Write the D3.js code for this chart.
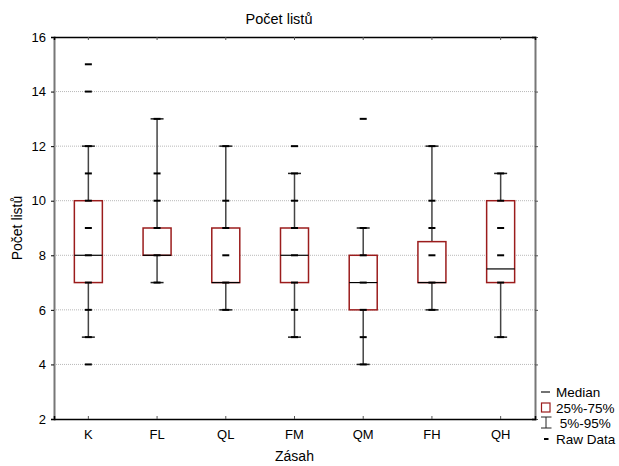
<!DOCTYPE html>
<html>
<head>
<meta charset="utf-8">
<script src="https://cdn.jsdelivr.net/npm/d3@7"></script>
<style>
body { margin: 0; background: #fff; }
text { font-family: "Liberation Sans", Arial, sans-serif; }
</style>
</head>
<body>
<div id="chart"></div>
<script>
var categories = ["K", "FL", "QL", "FM", "QM", "FH", "QH"];
var q1 =      [7, 8, 7, 7, 6, 7, 7];
var medians = [8, 8, 7, 8, 7, 7, 7.5];
var q3 =      [10, 9, 9, 9, 8, 8.5, 10];
var p5 =      [5, 7, 6, 5, 4, 6, 5];
var p95 =     [12, 13, 12, 11, 9, 12, 11];
var rawData = [
  [4, 5, 6, 7, 8, 9, 10, 11, 12, 14, 15],
  [7, 8, 9, 10, 11, 13],
  [6, 7, 8, 9, 10, 12],
  [5, 6, 7, 8, 9, 10, 11, 12],
  [4, 5, 6, 7, 8, 9, 13],
  [6, 7, 8, 9, 10, 12],
  [5, 7, 8, 9, 10, 11]
];
var yTicks = [2, 4, 6, 8, 10, 12, 14, 16];
var legendLabels = ["Median", "25%-75%", " 5%-95%", "Raw Data"];

var W = 619, H = 466;
var plotLeft = 54, plotRight = 535, plotTop = 37, plotBottom = 419;

var svg = d3.select("#chart").append("svg")
  .attr("width", W).attr("height", H);

var x = d3.scaleBand().domain(categories).range([plotLeft, plotRight]).padding(0);
var y = d3.scaleLinear().domain([2, 16]).range([plotBottom, plotTop]);

// grid
svg.append("g").selectAll("line")
  .data(yTicks.filter(function(t) { return t > 2 && t < 16; }))
  .enter().append("line")
  .attr("x1", plotLeft).attr("x2", plotRight)
  .attr("y1", function(d) { return y(d); })
  .attr("y2", function(d) { return y(d); })
  .attr("stroke", "#b8b8b8")
  .attr("stroke-width", 1)
  .attr("stroke-dasharray", "1,1");

// axes
var yAxis = svg.append("g").attr("transform", "translate(" + plotLeft + ",0)")
  .call(d3.axisLeft(y).tickValues(yTicks).tickSize(3).tickPadding(5));
yAxis.select(".domain").attr("stroke", "#777").attr("stroke-width", 2);
yAxis.selectAll("text").attr("font-size", 13).attr("fill", "#000");

var yAxisR = svg.append("g").attr("transform", "translate(" + plotRight + ",0)")
  .call(d3.axisLeft(y).tickValues(yTicks).tickSize(3).tickFormat(""));
yAxisR.select(".domain").attr("stroke", "#777").attr("stroke-width", 2);
yAxisR.selectAll(".tick line").attr("transform", "translate(3,0)").attr("stroke", "#555");

var xAxis = svg.append("g").attr("transform", "translate(0," + plotBottom + ")")
  .call(d3.axisTop(x).tickSize(3).tickFormat(""));
xAxis.select(".domain").attr("stroke", "#000").attr("stroke-width", 1.5);
xAxis.selectAll(".tick line").attr("stroke", "#555");

svg.append("g").selectAll("text")
  .data(categories).enter().append("text")
  .attr("x", function(d) { return x(d) + x.bandwidth() / 2; })
  .attr("y", plotBottom + 20)
  .attr("text-anchor", "middle")
  .attr("font-size", 13)
  .text(function(d) { return d; });

var xAxisT = svg.append("g").attr("transform", "translate(0," + plotTop + ")")
  .call(d3.axisBottom(x).tickSize(3).tickFormat(""));
xAxisT.select(".domain").attr("stroke", "#000").attr("stroke-width", 1.5);
xAxisT.selectAll(".tick line").attr("stroke", "#555");

// boxes
var boxW = 28, capW = 13, rawW = 7;
var g = svg.append("g");
categories.forEach(function(c, i) {
  var cx = x(c) + x.bandwidth() / 2;
  g.append("line")
    .attr("x1", cx).attr("x2", cx)
    .attr("y1", y(p5[i])).attr("y2", y(p95[i]))
    .attr("stroke", "#444").attr("stroke-width", 1.5);
  [p5[i], p95[i]].forEach(function(v) {
    g.append("line")
      .attr("x1", cx - capW / 2).attr("x2", cx + capW / 2)
      .attr("y1", y(v)).attr("y2", y(v))
      .attr("stroke", "#222").attr("stroke-width", 1.5);
  });
  g.append("rect")
    .attr("x", cx - boxW / 2).attr("width", boxW)
    .attr("y", y(q3[i])).attr("height", y(q1[i]) - y(q3[i]))
    .attr("fill", "#fff")
    .attr("stroke", "#9b1c1c").attr("stroke-width", 1.5);
  g.append("line")
    .attr("x1", cx - boxW / 2).attr("x2", cx + boxW / 2)
    .attr("y1", y(medians[i])).attr("y2", y(medians[i]))
    .attr("stroke", "#000").attr("stroke-width", 1.2);
  rawData[i].forEach(function(v) {
    g.append("line")
      .attr("x1", cx - rawW / 2).attr("x2", cx + rawW / 2)
      .attr("y1", y(v)).attr("y2", y(v))
      .attr("stroke", "#000").attr("stroke-width", 2);
  });
});

// titles
svg.append("text").attr("x", 279).attr("y", 24)
  .attr("text-anchor", "middle").attr("font-size", 14.5).text("Počet listů");
svg.append("text").attr("x", (plotLeft + plotRight) / 2).attr("y", 461)
  .attr("text-anchor", "middle").attr("font-size", 14).text("Zásah");
svg.append("text")
  .attr("transform", "translate(22," + ((plotTop + plotBottom) / 2) + ") rotate(-90)")
  .attr("text-anchor", "middle").attr("font-size", 14).text("Počet listů");

// legend
var lg = svg.append("g");
var ly = [392, 407.5, 422.5, 439];
lg.append("line").attr("x1", 541).attr("x2", 550).attr("y1", ly[0]).attr("y2", ly[0])
  .attr("stroke", "#444").attr("stroke-width", 1.5);
lg.append("rect").attr("x", 541.5).attr("y", ly[1] - 4.5).attr("width", 8.5).attr("height", 9)
  .attr("fill", "#fff").attr("stroke", "#9b1c1c").attr("stroke-width", 1.2);
lg.append("line").attr("x1", 546).attr("x2", 546).attr("y1", ly[2] - 5.5).attr("y2", ly[2] + 5.5)
  .attr("stroke", "#222").attr("stroke-width", 1);
[ly[2] - 5.5, ly[2] + 5.5].forEach(function(v) {
  lg.append("line").attr("x1", 541).attr("x2", 551.5).attr("y1", v).attr("y2", v)
    .attr("stroke", "#222").attr("stroke-width", 1);
});
lg.append("line").attr("x1", 544).attr("x2", 548.5).attr("y1", ly[3]).attr("y2", ly[3])
  .attr("stroke", "#000").attr("stroke-width", 2);
lg.selectAll("text").data(legendLabels).enter().append("text")
  .attr("x", 556).attr("y", function(d, i) { return ly[i] + 5; })
  .attr("font-size", 13.5)
  .attr("xml:space", "preserve")
  .style("white-space", "pre")
  .text(function(d) { return d; });
</script>
</body>
</html>
